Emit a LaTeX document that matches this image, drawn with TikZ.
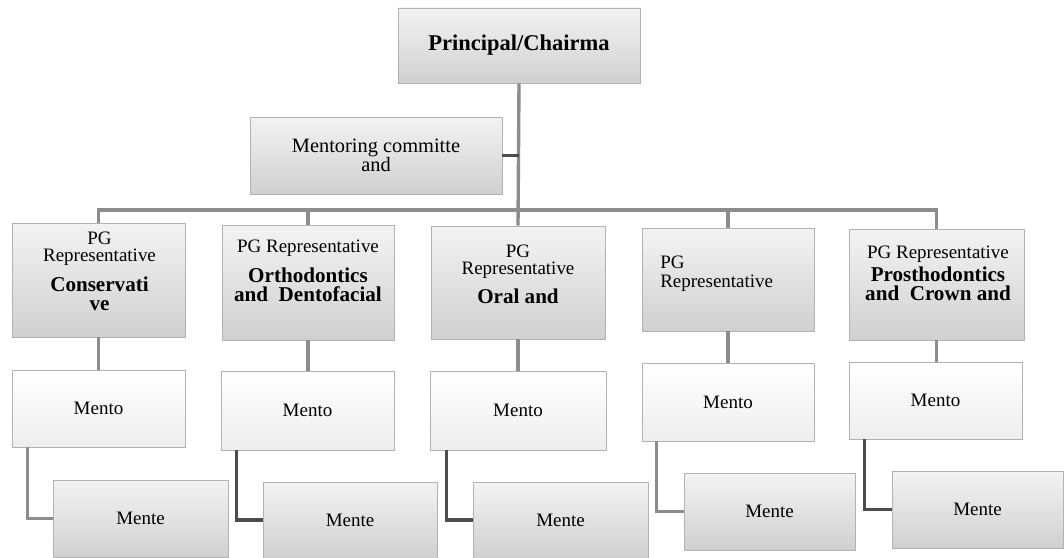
\documentclass[tikz,border=0pt]{standalone}
\usepackage{fontspec}
\setmainfont{Liberation Serif}
\usetikzlibrary{shadows}

\definecolor{boxline}{HTML}{B2B2B2}
\definecolor{boxtop}{HTML}{F3F3F3}
\definecolor{boxbot}{HTML}{D0D0D0}
\definecolor{linkgray}{HTML}{8C8C8C}
\definecolor{linkdark}{HTML}{4C4C4C}

\newcommand{\deptname}[1]{{\fontsize{15}{15}\selectfont\bfseries #1}}

\tikzset{
  wh/.style 2 args={minimum width=#1*0.025cm, minimum height=#2*0.025cm},
  orgbox/.style={rectangle, draw=boxline, line width=0.6pt, top color=boxtop, bottom color=boxbot,
    inner sep=0pt, drop shadow={shadow xshift=1pt, shadow yshift=-1pt, opacity=0.35}},
  litebox/.style={orgbox, top color=white, bottom color=boxtop!85!boxbot},
  link/.style={draw=linkgray, line width=2.4pt},
  darklink/.style={draw=linkdark, line width=2.2pt},
  pgtext/.style={align=center, inner sep=0pt}
}

\begin{document}
\begin{tikzpicture}[x=0.025cm, y=-0.025cm, every node/.style={font=\fontsize{13.5}{12}\selectfont}]
\useasboundingbox (0,0) rectangle (1064,558);

% head of the chart
\node[orgbox, wh={242}{75}, font=\fontsize{16}{16}\selectfont] (chair) at (519,45.5) {\textbf{Principal/Chairma}};
\node[orgbox, wh={252}{77}, align=center, font=\fontsize{14.5}{13}\selectfont] (mentor) at (376,155.5) {Mentoring committe\\[-0.5pt]and};

% PG representatives
\node[orgbox, wh={173}{114}] (pg1) at (98.5,280) {};
\node[orgbox, wh={172}{115}] (pg2) at (308,282.5) {};
\node[orgbox, wh={174}{113}] (pg3) at (518,282.5) {};
\node[orgbox, wh={172}{103}] (pg4) at (728,279.5) {};
\node[orgbox, wh={175}{111}] (pg5) at (936.5,284.5) {};

\node[pgtext, anchor=north] (pg1txt) at (99.5,232) {PG\\Representative\\[7pt]\deptname{Conservati}\\[1.5pt]\deptname{ve}};
\node[pgtext, anchor=north] (pg2txt) at (308,240) {PG Representative\\[7pt]\deptname{Orthodontics}\\[1.5pt]\deptname{and~ Dentofacial}};
\node[pgtext, anchor=north] (pg3txt) at (518,245) {PG\\Representative\\[6.5pt]\deptname{Oral and}};
\node[pgtext, anchor=north west, align=left] (pg4txt) at (660,256) {PG\\[1.5pt]Representative};
\node[pgtext, anchor=north] (pg5txt) at (938,246) {PG Representative\\[1.5pt]\deptname{Prosthodontics}\\[1.5pt]\deptname{and~ Crown and}};

% mentors
\node[litebox, wh={173}{77}] (mento1) at (98.5,408.5) {Mento};
\node[litebox, wh={173}{79}] (mento2) at (307.5,410.5) {Mento};
\node[litebox, wh={176}{79}] (mento3) at (518,410.5) {Mento};
\node[litebox, wh={172}{78}] (mento4) at (728,402) {Mento};
\node[litebox, wh={173}{77}] (mento5) at (935.5,400.5) {Mento};

% mentees
\node[orgbox, wh={175}{77}] (mente1) at (140.5,518.5) {Mente};
\node[orgbox, wh={174}{76}] (mente2) at (350,520) {Mente};
\node[orgbox, wh={175}{76}] (mente3) at (560.5,520) {Mente};
\node[orgbox, wh={171}{77}] (mente4) at (769.5,511.5) {Mente};
\node[orgbox, wh={171}{77}] (mente5) at (977.5,509.5) {Mente};

% connectors
\coordinate (bus) at (519,210);
\draw[link] (chair.south) -- (pg3.north);
\draw[darklink] (mentor.east) -- (mentor.east -| chair.south);
\draw[link] (pg1.north) |- (bus) -| (pg5.north);
\draw[link] (pg2.north) -- (pg2.north |- bus);
\draw[link] (pg4.north) -- (pg4.north |- bus);

\draw[link] (pg1.south) -- (pg1.south |- mento1.north);
\draw[link] (pg2.south) -- (pg2.south |- mento2.north);
\draw[link] (pg3.south) -- (pg3.south |- mento3.north);
\draw[link] (pg4.south) -- (pg4.south |- mento4.north);
\draw[link] (pg5.south) -- (pg5.south |- mento5.north);

\draw[link] ([xshift=0.4cm]mento1.south west) |- (mente1.west);
\draw[darklink] ([xshift=0.4cm]mento2.south west) |- (mente2.west);
\draw[darklink] ([xshift=0.42cm]mento3.south west) |- (mente3.west);
\draw[link] ([xshift=0.38cm]mento4.south west) |- (mente4.west);
\draw[darklink] ([xshift=0.4cm]mento5.south west) |- (mente5.west);
\end{tikzpicture}
\end{document}
